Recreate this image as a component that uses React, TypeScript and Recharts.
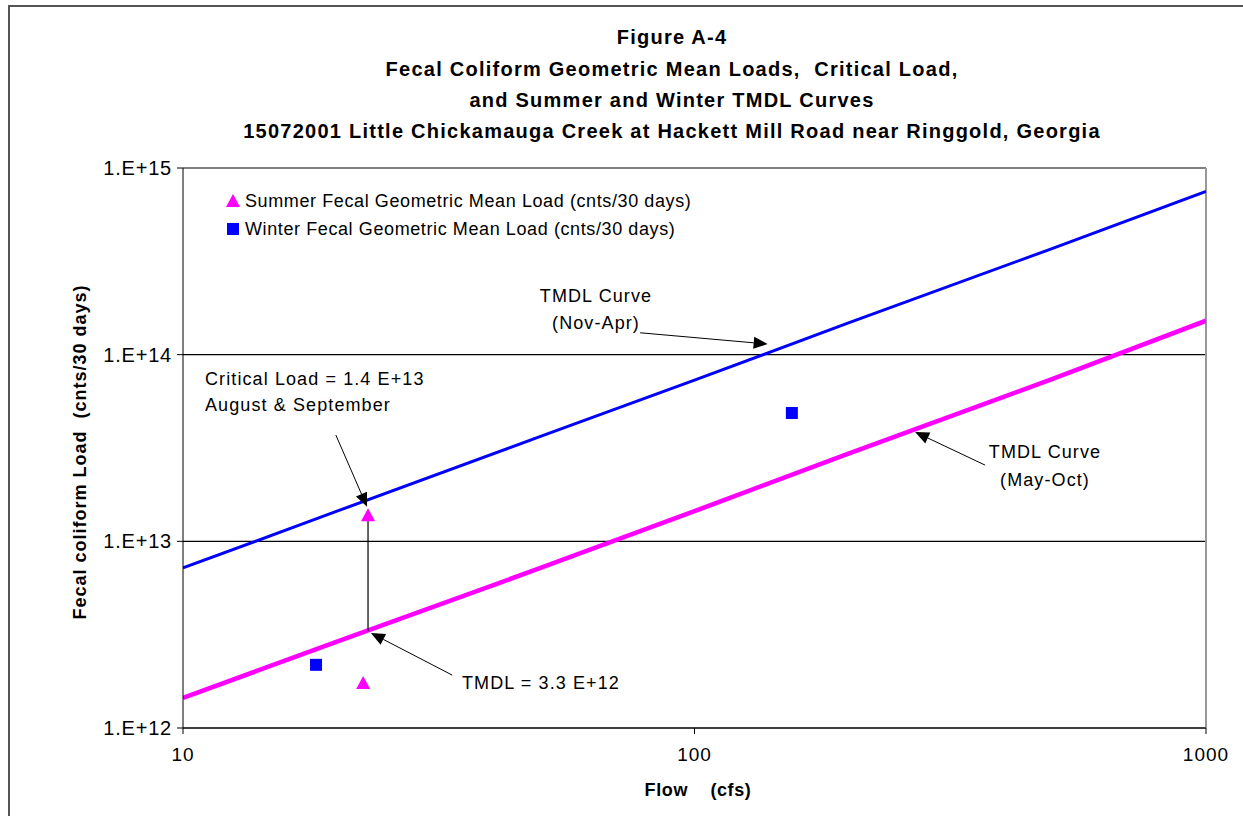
import {
  CartesianGrid,
  ComposedChart,
  Line,
  ReferenceLine,
  Scatter,
  XAxis,
  YAxis,
} from 'recharts';

// TMDL curves (flow in cfs, load in counts / 30 days)
const winterCurve = [
  { flow: 10, load: 7.2e12 },
  { flow: 20, load: 1.45e13 },
  { flow: 50, load: 3.65e13 },
  { flow: 100, load: 7.3e13 },
  { flow: 200, load: 1.48e14 },
  { flow: 500, load: 3.7e14 },
  { flow: 1000, load: 7.5e14 },
];

const summerCurve = [
  { flow: 10, load: 1.45e12 },
  { flow: 20, load: 2.9e12 },
  { flow: 50, load: 7.2e12 },
  { flow: 100, load: 1.45e13 },
  { flow: 200, load: 2.95e13 },
  { flow: 500, load: 7.4e13 },
  { flow: 1000, load: 1.52e14 },
];

const summerPoints = [
  { flow: 23, load: 1.38e13 },
  { flow: 22.5, load: 1.74e12 },
];

const winterPoints = [
  { flow: 18.2, load: 2.18e12 },
  { flow: 155, load: 4.87e13 },
];

const xTicks = [10, 100, 1000];
const yTicks = [1e12, 1e13, 1e14, 1e15];

// annotation arrows: [tail, head] in data units
const arrows = [
  [{ x: 78.3, y: 1.31e14 }, { x: 139, y: 1.14e14 }],
  [{ x: 19.9, y: 3.71e13 }, { x: 22.9, y: 1.53e13 }],
  [{ x: 33.6, y: 1.92e12 }, { x: 23.3, y: 3.23e12 }],
  [{ x: 370, y: 2.56e13 }, { x: 270, y: 3.85e13 }],
];
const criticalLink = [{ x: 23, y: 1.38e13 }, { x: 23, y: 3.3e12 }];

const FONT = "Arial, 'Liberation Sans', sans-serif";

const fmtY = (v: number) => `1.E+${Math.round(Math.log10(v))}`;

function Arrow(props: any) {
  const { x1, y1, x2, y2 } = props;
  const ang = Math.atan2(y2 - y1, x2 - x1);
  const len = 14;
  const half = 6;
  const bx = x2 - len * Math.cos(ang);
  const by = y2 - len * Math.sin(ang);
  const px = -Math.sin(ang) * half;
  const py = Math.cos(ang) * half;
  return (
    <g>
      <line x1={x1} y1={y1} x2={bx} y2={by} stroke="#000" strokeWidth={1} />
      <polygon points={`${x2},${y2} ${bx + px},${by + py} ${bx - px},${by - py}`} fill="#000" />
    </g>
  );
}

function Triangle(props: any) {
  const { cx, cy } = props;
  if (cx == null || cy == null) return null;
  return <polygon points={`${cx},${cy - 7} ${cx - 7},${cy + 6} ${cx + 7},${cy + 6}`} fill="#ff00ff" />;
}

function Square(props: any) {
  const { cx, cy } = props;
  if (cx == null || cy == null) return null;
  return <rect x={cx - 6} y={cy - 6} width={12} height={12} fill="#0000ff" />;
}

const titleLines = [
  'Figure A-4',
  'Fecal Coliform Geometric Mean Loads,  Critical Load,',
  'and Summer and Winter TMDL Curves',
  '15072001 Little Chickamauga Creek at Hackett Mill Road near Ringgold, Georgia',
];
const titleY = [37, 69, 100, 131];

const xTickStyle = { fill: '#000', fontSize: 19, fontFamily: FONT, letterSpacing: 1 };
const yTickStyle = { fill: '#000', fontSize: 20, fontFamily: FONT, letterSpacing: 0.8 };

export default function App() {
  return (
    <div style={{ position: 'absolute', left: 0, top: 0, width: 1243, height: 816, background: '#fff', fontFamily: FONT }}>
      <div
        style={{
          position: 'absolute',
          left: 8,
          top: 5,
          width: 1240,
          height: 820,
          borderLeft: '2px solid #555',
          borderTop: '2px solid #555',
        }}
      />
      <ComposedChart
        width={1243}
        height={816}
        margin={{ top: 168, right: 37, bottom: 48, left: 83 }}
        style={{ position: 'absolute', left: 0, top: 0 }}
      >
        <CartesianGrid horizontal vertical={false} stroke="#000" strokeWidth={1.2} />
        <XAxis
          dataKey="flow"
          type="number"
          scale="log"
          domain={[10, 1000]}
          ticks={xTicks}
          allowDataOverflow
          height={40}
          stroke="#000"
          tickSize={6}
          tick={xTickStyle}
          tickMargin={14}
        />
        <YAxis
          dataKey="load"
          type="number"
          scale="log"
          domain={[1e12, 1e15]}
          ticks={yTicks}
          allowDataOverflow
          width={100}
          stroke="#000"
          tickSize={6}
          tickFormatter={fmtY}
          tick={yTickStyle}
          tickMargin={5}
        />
        <ReferenceLine x={1000} stroke="#999" strokeWidth={2} />
        <Line
          data={winterCurve}
          dataKey="load"
          stroke="#0000ff"
          strokeWidth={3}
          dot={false}
          type="linear"
          isAnimationActive={false}
        />
        <Line
          data={summerCurve}
          dataKey="load"
          stroke="#ff00ff"
          strokeWidth={4.5}
          dot={false}
          type="linear"
          isAnimationActive={false}
        />
        <ReferenceLine segment={criticalLink} stroke="#000" strokeWidth={1.2} />
        {arrows.map((seg, i) => (
          <ReferenceLine key={i} segment={seg} shape={Arrow} />
        ))}
        <Scatter data={summerPoints} dataKey="load" shape={Triangle} isAnimationActive={false} />
        <Scatter data={winterPoints} dataKey="load" shape={Square} isAnimationActive={false} />
      </ComposedChart>
      <svg width={1243} height={816} style={{ position: 'absolute', left: 0, top: 0, pointerEvents: 'none' }}>
        <g fontFamily={FONT} fontWeight="bold" fontSize={20} letterSpacing={1.25} textAnchor="middle" fill="#000">
          {titleLines.map((t, i) => (
            <text key={i} x={672} y={titleY[i]} dominantBaseline="central" xmlSpace="preserve" style={{ whiteSpace: 'pre' }}>
              {t}
            </text>
          ))}
        </g>
        <text
          x={80}
          y={452}
          transform="rotate(-90 80 452)"
          textAnchor="middle"
          dominantBaseline="central"
          fontFamily={FONT}
          fontWeight="bold"
          fontSize={18}
          letterSpacing={1}
          xmlSpace="preserve"
          style={{ whiteSpace: 'pre' }}
        >
          {'Fecal coliform Load  (cnts/30 days)'}
        </text>
        <text
          x={698}
          y={790}
          textAnchor="middle"
          dominantBaseline="central"
          fontFamily={FONT}
          fontWeight="bold"
          fontSize={18}
          letterSpacing={0.6}
          xmlSpace="preserve"
          style={{ whiteSpace: 'pre' }}
        >
          {'Flow    (cfs)'}
        </text>
        <g fontFamily={FONT} fontSize={18} letterSpacing={0.6} fill="#000">
          <polygon points="233,194 226,207 240,207" fill="#ff00ff" />
          <text x={245} y={201} dominantBaseline="central">Summer Fecal Geometric Mean Load (cnts/30 days)</text>
          <rect x={227} y={223} width={12} height={12} fill="#0000ff" />
          <text x={245} y={229} dominantBaseline="central">Winter Fecal Geometric Mean Load (cnts/30 days)</text>
        </g>
        <g fontFamily={FONT} fontSize={18} letterSpacing={1.1} fill="#000">
          <text x={596} y={296} textAnchor="middle" dominantBaseline="central">TMDL Curve</text>
          <text x={596} y={323} textAnchor="middle" dominantBaseline="central">(Nov-Apr)</text>
          <text x={205} y={379} dominantBaseline="central">Critical Load = 1.4 E+13</text>
          <text x={205} y={405} dominantBaseline="central">August &amp; September</text>
          <text x={462} y={683} dominantBaseline="central">TMDL = 3.3 E+12</text>
          <text x={1045} y={452} textAnchor="middle" dominantBaseline="central">TMDL Curve</text>
          <text x={1045} y={480} textAnchor="middle" dominantBaseline="central">(May-Oct)</text>
        </g>
      </svg>
    </div>
  );
}
